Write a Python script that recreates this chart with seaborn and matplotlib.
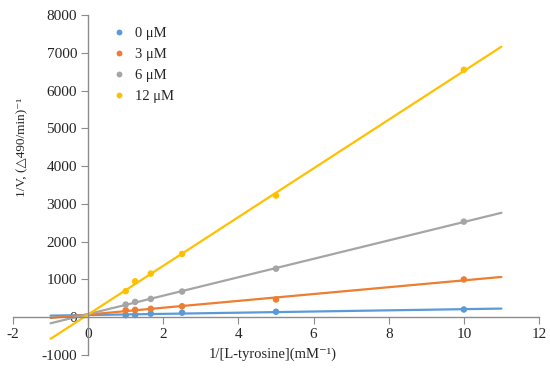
import pandas as pd
import matplotlib.pyplot as plt
import seaborn as sns
import numpy as np

# Lineweaver-Burk data
inv_s = [1.0, 1.25, 1.667, 2.5, 5.0, 10.0]
groups = ["0 μM", "3 μM", "6 μM", "12 μM"]
inv_v_0 = [55, 60, 95, 120, 145, 205]
inv_v_3 = [185, 195, 222, 290, 470, 1000]
inv_v_6 = [335, 405, 485, 680, 1285, 2530]
inv_v_12 = [690, 950, 1155, 1675, 3220, 6550]
colors = ["#5B9BD5", "#ED7D31", "#A5A5A5", "#FFC000"]
fit_range = [-1, 11]

pts = pd.DataFrame({
    "x": inv_s * 4,
    "y": inv_v_0 + inv_v_3 + inv_v_6 + inv_v_12,
    "group": [g for g in groups for _ in inv_s],
})

# linear fits, extended over the fit range
rows = []
for g, sub in pts.groupby("group", sort=False):
    k, b = np.polyfit(sub["x"], sub["y"], 1)
    for xv in fit_range:
        rows.append({"x": xv, "y": k * xv + b, "group": g})
fits = pd.DataFrame(rows)

sns.set_style("white")
plt.rcParams["font.family"] = ["Liberation Serif", "DejaVu Serif"]
plt.rcParams["axes.unicode_minus"] = False

fig = plt.figure(figsize=(5.5, 3.71), dpi=100)
ax = fig.add_axes([13 / 550, 16 / 371, 526 / 550, 340 / 371])

pal = dict(zip(groups, colors))
sns.lineplot(data=fits, x="x", y="y", hue="group", palette=pal, lw=1.6, ax=ax, legend=False)
sns.scatterplot(data=pts, x="x", y="y", hue="group", palette=pal, s=22, edgecolor="none", ax=ax)

ax.set_xlim(-2, 12)
ax.set_ylim(-1000, 8000)
ax.set_xticks(range(-2, 13, 2))
ax.set_yticks(range(-1000, 8001, 1000))
for s in ["top", "right"]:
    ax.spines[s].set_visible(False)
ax.spines["left"].set_position(("data", 0))
ax.spines["bottom"].set_position(("data", 0))
for s in ["left", "bottom"]:
    ax.spines[s].set_color("#8c8c8c")
    ax.spines[s].set_linewidth(1.0)
ax.tick_params(axis="both", length=5, color="#8c8c8c", labelsize=11, direction="out",
               bottom=True, left=True)
ax.tick_params(axis="x", pad=3)
ax.tick_params(axis="y", pad=3)
ax.set_xlabel("")
ax.set_ylabel("")

fig.text(273 / 550, 1 - 354 / 371, "1/[L-tyrosine](mM⁻¹)", ha="center", va="center", fontsize=10.5)
fig.text(22 / 550, 1 - 147 / 371, "1/V, (△490/min)⁻¹", ha="center", va="center",
         rotation=90, fontsize=9.5)

ax.legend(title=None, frameon=False, loc="upper left", bbox_to_anchor=(0.148, 1.005),
          fontsize=10.5, handletextpad=0.15, labelspacing=0.55, markerscale=0.9)

fig.savefig("out.png", dpi=100)
